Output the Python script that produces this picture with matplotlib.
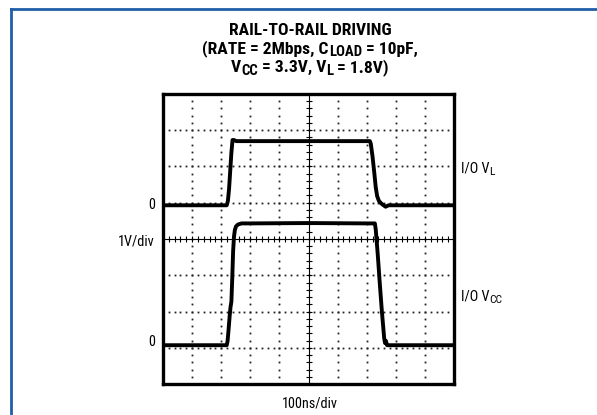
import os
import matplotlib
matplotlib.use("Agg")
import matplotlib.pyplot as plt
from matplotlib import font_manager
from matplotlib.font_manager import FontProperties
from matplotlib.lines import Line2D
import numpy as np

# ---------------- data ----------------
time_ns = [0, 219, 223, 227, 231, 235, 239, 244, 252, 300, 500, 700, 711, 714, 720, 726, 731, 736,
           742, 750, 758, 765, 775, 800, 1000]
vl_volts = [0, 0, 0.12, 0.45, 0.95, 1.45, 1.80, 1.80, 1.77, 1.77, 1.77, 1.77, 1.77, 1.70, 1.35,
            0.9, 0.5, 0.25, 0.12, 0.05, 0.0, -0.04, 0.0, 0.0, 0]

time_cc_ns = [0, 219, 222, 225, 229, 232, 235, 238, 241, 244, 247, 251, 258, 270, 300, 500, 700,
              728, 731, 738, 745, 752, 760, 763, 766, 770, 790, 1000]
vcc_volts = [0, 0, 0.12, 0.4, 0.8, 1.05, 1.2, 1.85, 2.6, 3.0, 3.18, 3.28, 3.33, 3.36, 3.36, 3.37,
             3.36, 3.36, 3.2, 2.5, 1.7, 0.95, 0.2, 0.06, 0.12, 0.0, 0.0, 0]

# rich text: (text, is_subscript)
title_lines = [
    [("RAIL-TO-RAIL DRIVING", False)],
    [("(RATE = 2Mbps, C", False), ("LOAD", True), (" = 10pF,", False)],
    [("V", False), ("CC", True), (" = 3.3V, V", False), ("L", True), (" = 1.8V)", False)],
]
label_vl = [("I/O V", False), ("L", True)]
label_vcc = [("I/O V", False), ("CC", True)]
x_label = "100ns/div"
y_scale_label = "1V/div"
zero_label = "0"

NS_PER_DIV = 100.0
V_PER_DIV = 1.0
VL_ZERO_DIV = 4.93
VCC_ZERO_DIV = 1.07

# ---------------- fonts ----------------
paths = set(font_manager.findSystemFonts())
paths |= {f.fname for f in font_manager.fontManager.ttflist}
base = {os.path.basename(p).lower(): p for p in paths}

def find(cands):
    for c in cands:
        if c.lower() in base:
            return base[c.lower()]
    return None

reg_path = find(["LiberationSansNarrow-Regular.ttf", "RobotoCondensed-Regular.ttf",
                 "DejaVuSansCondensed.ttf"])
bold_path = find(["LiberationSansNarrow-Bold.ttf", "RobotoCondensed-Bold.ttf",
                  "DejaVuSansCondensed-Bold.ttf"])

def fprop(path, bold=False):
    if path:
        return FontProperties(fname=path)
    return FontProperties(family="DejaVu Sans", weight="bold" if bold else "normal",
                          stretch="condensed")

FP_REG = fprop(reg_path)
FP_BOLD = fprop(bold_path, True)

W, H = 597, 415
fig = plt.figure(figsize=(W / 100, H / 100), dpi=100)
fig.patch.set_facecolor("white")
renderer = fig.canvas.get_renderer()

def rich(xp, yp, parts, fp, size, ha="left", sub_scale=0.8, sub_drop=0.22):
    """Draw text pieces with subscripts; xp, yp in pixels from top-left; y = baseline."""
    arts = []
    for s, is_sub in parts:
        sz = size * (sub_scale if is_sub else 1.0)
        t = fig.text(0, 0, s, fontproperties=fp, fontsize=sz, va="baseline", ha="left")
        arts.append((t, is_sub))
    widths = [t.get_window_extent(renderer).width for t, _ in arts]
    total = sum(widths)
    x0 = xp - (total / 2 if ha == "center" else (total if ha == "right" else 0))
    x = x0
    for (t, is_sub), w in zip(arts, widths):
        dy = size * sub_drop * 100 / 72 if is_sub else 0
        t.set_position((x / W, 1 - (yp + dy) / H))
        x += w

# blue frame
blue = "#1f5ea8"
fig.add_artist(Line2D([11 / W, 11 / W], [0, 1 - 9 / H], transform=fig.transFigure,
                      color=blue, lw=2.0, solid_capstyle="projecting"))
fig.add_artist(Line2D([11 / W, 1], [1 - 9 / H, 1 - 9 / H], transform=fig.transFigure,
                      color=blue, lw=2.0, solid_capstyle="projecting"))

L, R, T, B = 163, 454, 94, 384
ax = fig.add_axes([L / W, 1 - B / H, (R - L) / W, (B - T) / H])
ax.set_xlim(0, 10)
ax.set_ylim(0, 8)
ax.set_xticks([])
ax.set_yticks([])
for s in ax.spines.values():
    s.set_linewidth(2.4)
    s.set_color("black")

# dotted graticule
sub = np.arange(0, 10.001, 0.2)
subv = np.arange(0, 8.001, 0.2)
for i in range(1, 10):
    if i == 5:
        continue
    ax.plot(np.full_like(subv, i), subv, ls="none", marker="s", ms=1.3, color="#222222", mew=0)
for j in range(1, 8):
    if j == 4:
        continue
    ax.plot(sub, np.full_like(sub, j), ls="none", marker="s", ms=1.3, color="#222222", mew=0)
# center crosshair with minor ticks
ax.axvline(5, color="black", lw=0.8)
ax.axhline(4, color="black", lw=0.8)
ax.plot(sub, np.full_like(sub, 4), ls="none", marker="|", ms=5, mew=0.8, color="black")
ax.plot(np.full_like(subv, 5), subv, ls="none", marker="_", ms=5, mew=0.8, color="black")

# traces
tx = np.array(time_ns) / NS_PER_DIV
ax.plot(tx, VL_ZERO_DIV + np.array(vl_volts) / V_PER_DIV, color="black", lw=2.8,
        solid_joinstyle="round", solid_capstyle="butt")
tx2 = np.array(time_cc_ns) / NS_PER_DIV
ax.plot(tx2, VCC_ZERO_DIV + np.array(vcc_volts) / V_PER_DIV, color="black", lw=2.8,
        solid_joinstyle="round", solid_capstyle="butt")

# text
fs = 10.3
tfs = 12.6
for k, line in enumerate(title_lines):
    rich(310, 35 + 18.5 * k, line, FP_BOLD, tfs, ha="center", sub_scale=0.84, sub_drop=0.17)

rich(155, 209, [(zero_label, False)], FP_REG, fs, ha="right")
rich(155, 245, [(y_scale_label, False)], FP_REG, fs, ha="right")
rich(155, 346, [(zero_label, False)], FP_REG, fs, ha="right")
rich(461, 172, label_vl, FP_REG, fs)
rich(461, 300, label_vcc, FP_REG, fs)
rich(310, 407, [(x_label, False)], FP_REG, fs, ha="center")

fig.savefig("out.png", dpi=100)
